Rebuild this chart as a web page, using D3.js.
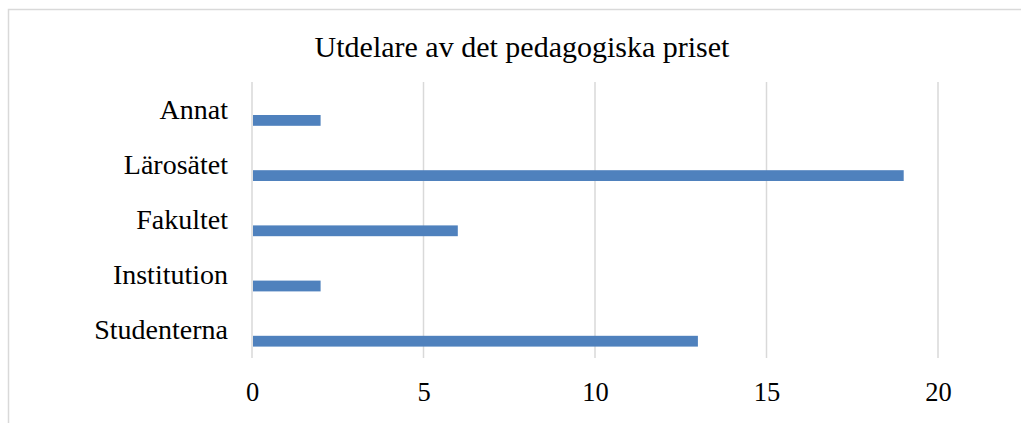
<!DOCTYPE html>
<html>
<head>
<meta charset="utf-8">
<script src="https://cdn.jsdelivr.net/npm/d3@7"></script>
<style>
  body { margin: 0; background: #fff; }
  svg text { font-family: "Liberation Serif", "Times New Roman", "DejaVu Serif", serif !important; fill: #000; }
</style>
</head>
<body>
<div id="chart"></div>
<script>
const categories = ["Annat", "Lärosätet", "Fakultet", "Institution", "Studenterna"];
const values = [2, 19, 6, 2, 13];
const xTicks = [0, 5, 10, 15, 20];
const title = "Utdelare av det pedagogiska priset";

const width = 1021;
const height = 423;
const margin = { top: 82, right: 83, bottom: 65, left: 252 };
const innerW = width - margin.left - margin.right;
const innerH = height - margin.top - margin.bottom;

const svg = d3.select("#chart")
    .append("svg")
    .attr("width", width)
    .attr("height", height);

// chart frame
svg.append("rect")
    .attr("x", 8.5)
    .attr("y", 9.5)
    .attr("width", 1020)
    .attr("height", 430)
    .attr("fill", "none")
    .attr("stroke", "#d9d9d9")
    .attr("stroke-width", 1.5);

svg.append("text")
    .attr("x", 522)
    .attr("y", 57)
    .style("text-anchor", "middle")
    .style("font-size", "30px")
    .text(title);

const g = svg.append("g")
    .attr("transform", "translate(" + margin.left + "," + margin.top + ")");

const xScale = d3.scaleLinear()
    .domain([0, 20])
    .range([0, 686]);

const yScale = d3.scaleBand()
    .domain(categories)
    .range([0, innerH]);

// gridlines
g.selectAll(".grid")
    .data(xTicks)
    .enter().append("line")
    .attr("class", "grid")
    .attr("x1", d => xScale(d))
    .attr("x2", d => xScale(d))
    .attr("y1", 0)
    .attr("y2", innerH)
    .attr("stroke", "#d9d9d9")
    .attr("stroke-width", 1.5);

const xAxis = d3.axisBottom(xScale).tickValues(xTicks).tickSize(0).tickPadding(24);
g.append("g")
    .attr("class", "x-axis")
    .attr("transform", "translate(0," + innerH + ")")
    .call(xAxis)
    .call(a => a.select(".domain").remove())
    .selectAll("text")
    .style("font-size", "26.5px");

const yAxis = d3.axisLeft(yScale).tickSize(0).tickPadding(24);
g.append("g")
    .attr("class", "y-axis")
    .call(yAxis)
    .call(a => a.select(".domain").remove())
    .selectAll("text")
    .style("font-size", "28px");

// bars sit in the lower part of each band
const barH = 10.8;
g.selectAll(".bar")
    .data(values)
    .enter().append("rect")
    .attr("class", "bar")
    .attr("x", xScale(0) + 1)
    .attr("y", (d, i) => yScale(categories[i]) + 33)
    .attr("width", d => xScale(d) - xScale(0) - 1)
    .attr("height", barH)
    .attr("fill", "#4f81bd");
</script>
</body>
</html>
